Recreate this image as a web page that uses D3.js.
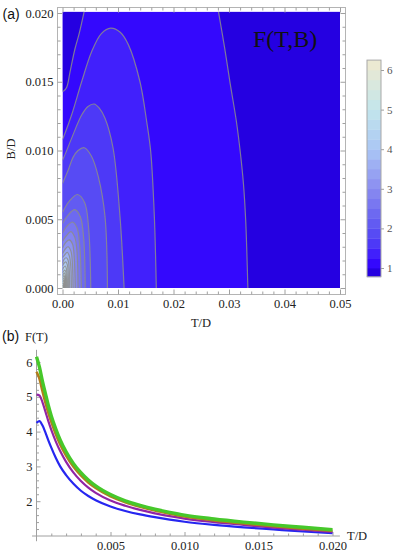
<!DOCTYPE html>
<html>
<head>
<meta charset="utf-8">
<script src="https://cdn.jsdelivr.net/npm/d3@7"></script>
<style>
  body { margin: 0; background: #fff; }
  svg { display: block; }
</style>
</head>
<body>
<svg id="chart" width="398" height="552"></svg>
<script>
// ---- panel (a) data: contour lines of F(T,B) as [T, B] ----
const contourLevels = [1.0, 1.25, 1.5, 1.75, 2.0, 2.25, 2.5, 2.75, 3.0, 3.25, 3.5, 3.75,
                       4.0, 4.25, 4.5, 4.75, 5.0, 5.25, 5.5, 5.75, 6.0];
const valueRange = [0.78, 6.25];

// level 1.0 has two branches (upper-left corner and right side)
const lowLeft = [[0.0039, 0.0201], [0.0030, 0.0185], [0.00225, 0.0174], [0.00135, 0.0157],
                 [0.00076, 0.0146], [0.0002, 0.01432], [0, 0.0143]];
const lowRight = [[0.0281, 0.0201], [0.0292, 0.0175], [0.0302, 0.0149], [0.0313, 0.0122],
                  [0.0320, 0.0100], [0.0326, 0.0076], [0.0330, 0.0050], [0.0332, 0.0028], [0.0334, 0]];

// levels 1.25 ... 6.0, each an arch from the T axis to the B axis
const arches = [
  [[0.0169, 0], [0.01655, 0.0052], [0.0159, 0.0099], [0.01517, 0.0121], [0.01396, 0.0150],
   [0.01186, 0.0177], [0.0104, 0.0186], [0.00868, 0.0189], [0.0070, 0.0185], [0.00526, 0.0172],
   [0.00345, 0.0150], [0.00165, 0.0126], [0.0004, 0.0112], [0, 0.0108]],
  [[0.0111, 0], [0.01036, 0.0052], [0.0091, 0.0102], [0.00766, 0.01234], [0.0066, 0.0131],
   [0.00568, 0.01338], [0.0046, 0.0132], [0.00345, 0.01258], [0.00165, 0.0109], [0.00045, 0.0097], [0, 0.0093]],
  [[0.0081, 0], [0.00766, 0.0052], [0.00645, 0.0081], [0.0052, 0.0096], [0.00393, 0.0102],
   [0.0028, 0.0100], [0.0019, 0.0095], [0.00105, 0.0086], [0, 0.0076]],
  [[0.0051, 0], [0.0047, 0.0044], [0.0040, 0.0062], [0.0027, 0.0068], [0.0012, 0.0063], [0, 0.0055]],
  [[0.0041, 0], [0.0038, 0.0037], [0.0032, 0.0052], [0.0022, 0.0057], [0.0010, 0.0053], [0, 0.0047]],
  [[0.0034, 0], [0.0031, 0.0031], [0.0026, 0.0044], [0.0018, 0.0048], [0.0008, 0.0045], [0, 0.0040]],
  [[0.0028, 0], [0.0026, 0.0027], [0.0022, 0.0037], [0.0015, 0.0041], [0.0007, 0.0038], [0, 0.0034]],
  [[0.0023, 0], [0.0021, 0.0023], [0.0018, 0.0032], [0.0012, 0.0035], [0.00055, 0.0033], [0, 0.0029]],
  [[0.0019, 0], [0.00175, 0.0020], [0.0015, 0.0027], [0.0010, 0.0030], [0.00045, 0.0028], [0, 0.0025]],
  [[0.0016, 0], [0.00147, 0.0017], [0.00125, 0.0023], [0.00085, 0.0026], [0.00038, 0.0024], [0, 0.0022]],
  [[0.0013, 0], [0.0012, 0.0014], [0.00102, 0.0020], [0.0007, 0.0022], [0.0003, 0.0021], [0, 0.0018]],
  [[0.0011, 0], [0.00101, 0.0012], [0.00086, 0.0017], [0.0006, 0.0019], [0.00026, 0.0018], [0, 0.0016]],
  [[0.0009, 0], [0.00083, 0.0010], [0.0007, 0.0014], [0.0005, 0.0016], [0.00021, 0.0015], [0, 0.0013]],
  [[0.00075, 0], [0.00069, 0.0008], [0.00058, 0.0012], [0.0004, 0.0013], [0.00017, 0.0012], [0, 0.0011]],
  [[0.0006, 0], [0.00055, 0.0007], [0.00046, 0.0010], [0.00033, 0.0011], [0.00014, 0.0010], [0, 0.0009]],
  [[0.0005, 0], [0.00046, 0.0006], [0.00038, 0.00082], [0.00027, 0.0009], [0.00011, 0.00083], [0, 0.00075]],
  [[0.0004, 0], [0.00037, 0.00048], [0.0003, 0.00066], [0.00021, 0.00072], [0.00009, 0.00066], [0, 0.0006]],
  [[0.0003, 0], [0.00028, 0.00036], [0.00023, 0.0005], [0.00016, 0.00055], [0.00007, 0.0005], [0, 0.00045]],
  [[0.0002, 0], [0.00018, 0.00025], [0.00015, 0.00035], [0.0001, 0.00038], [0.00004, 0.00035], [0, 0.0003]],
  [[0.0001, 0], [0.00009, 0.00013], [0.000075, 0.00018], [0.00005, 0.0002], [0.00002, 0.00018], [0, 0.00016]]
];

const tTicksA = [0, 0.01, 0.02, 0.03, 0.04, 0.05];
const bTicksA = [0, 0.005, 0.01, 0.015, 0.02];
const barTicks = [1, 2, 3, 4, 5, 6];

// colour map (value -> colour)
const colorStops = [0.78, 1.0, 1.25, 1.5, 2.0, 3.0, 4.0, 5.0, 6.25];
const colorHex = ["#1c00c8", "#2e00fa", "#3a10ff", "#4830f8", "#5c54f2", "#8a8cf0", "#aac6f4", "#c3e6ec", "#efe9cf"];

// ---- panel (b) data: F(T) curves ----
const curveT = [0, 0.0002, 0.0004, 0.0006, 0.0008, 0.001, 0.0013, 0.0016, 0.002, 0.0025, 0.003,
                0.0035, 0.004, 0.005, 0.006, 0.007, 0.008, 0.009, 0.010, 0.012, 0.014, 0.016, 0.018, 0.020];
const blueF   = [4.25, 4.30, 4.18, 3.98, 3.75, 3.54, 3.25, 3.00, 2.75, 2.50, 2.30, 2.15, 2.03, 1.85,
                 1.72, 1.62, 1.54, 1.47, 1.41, 1.32, 1.25, 1.19, 1.13, 1.08];
const purpleF = [5.06, 5.04, 4.85, 4.58, 4.30, 4.05, 3.72, 3.44, 3.13, 2.82, 2.58, 2.39, 2.24, 2.02,
                 1.87, 1.75, 1.65, 1.57, 1.50, 1.40, 1.32, 1.24, 1.18, 1.12];
const orangeF = [5.72, 5.52, 5.17, 4.84, 4.54, 4.28, 3.93, 3.63, 3.31, 2.99, 2.74, 2.54, 2.38, 2.14,
                 1.97, 1.84, 1.73, 1.64, 1.56, 1.45, 1.36, 1.28, 1.21, 1.15];
const greenF  = [6.15, 5.85, 5.45, 5.10, 4.75, 4.45, 4.08, 3.76, 3.42, 3.08, 2.82, 2.61, 2.44, 2.19,
                 2.01, 1.88, 1.77, 1.68, 1.60, 1.49, 1.40, 1.32, 1.25, 1.18];
const tTicksB = [0.005, 0.010, 0.015, 0.020];
const fTicksB = [2, 3, 4, 5, 6];

// ---------------------------------------------------------------
const svg = d3.select("#chart");
const serif = '"Liberation Serif","Times New Roman",serif';
const sans = '"Liberation Sans",Arial,sans-serif';
const tickGray = "#a0a0a0";

const colorScale = d3.scaleLinear().domain(colorStops).range(colorHex).interpolate(d3.interpolateRgb);
const bounds = [valueRange[0], ...contourLevels, valueRange[1]];
// band k lies between bounds[k] and bounds[k+1]
const bandColor = k => colorScale((bounds[k] + bounds[k + 1]) / 2);

// ================= panel (a) =================
const xA = d3.scaleLinear().domain([0, 0.05]).range([62.5, 340]);
const yA = d3.scaleLinear().domain([0, 0.02]).range([288, 13]);
const bTop = 0.0201;

svg.append("defs").append("clipPath").attr("id", "clipA")
  .append("rect")
  .attr("x", xA(0)).attr("y", yA(bTop))
  .attr("width", xA(0.05) - xA(0)).attr("height", yA(0) - yA(bTop));

const gA = svg.append("g").attr("clip-path", "url(#clipA)");
const arc = d3.line().x(d => xA(d[0])).y(d => yA(d[1])).curve(d3.curveCatmullRom.alpha(0.5));

gA.append("rect")
  .attr("x", xA(0)).attr("y", yA(bTop))
  .attr("width", xA(0.05) - xA(0)).attr("height", yA(0) - yA(bTop))
  .attr("fill", bandColor(1));

gA.append("path")
  .attr("d", arc(lowLeft) + `L${xA(0)},${yA(bTop)}Z`)
  .attr("fill", bandColor(0));
gA.append("path")
  .attr("d", arc(lowRight) + `L${xA(0.05)},${yA(0)}L${xA(0.05)},${yA(bTop)}Z`)
  .attr("fill", bandColor(0));

gA.selectAll(".band")
  .data(arches)
  .enter()
  .append("path")
  .attr("class", "band")
  .attr("d", d => arc(d) + `L${xA(0)},${yA(0)}Z`)
  .attr("fill", (d, i) => bandColor(i + 2));

gA.selectAll(".cline")
  .data([lowLeft, lowRight, ...arches])
  .enter()
  .append("path")
  .attr("class", "cline")
  .attr("d", d => arc(d))
  .attr("fill", "none")
  .attr("stroke", "#8c8c8c")
  .attr("stroke-opacity", 0.85)
  .attr("stroke-width", 1.2);

// frame
const fr = { l: 57.5, r: 345.5, t: 7.5, b: 294.5 };
svg.append("rect")
  .attr("x", fr.l).attr("y", fr.t)
  .attr("width", fr.r - fr.l).attr("height", fr.b - fr.t)
  .attr("fill", "none").attr("stroke", "#b4b4b4").attr("stroke-width", 1);

function styleAxis(g, size) {
  g.select(".domain").remove();
  g.selectAll("line").attr("stroke", tickGray);
  g.attr("font-family", serif).attr("font-size", size);
  g.selectAll("text").attr("fill", "#222");
}

const minorTA = xA.ticks(25).filter(v => !tTicksA.some(t => Math.abs(t - v) < 1e-9));
const minorBA = yA.ticks(20).filter(v => !bTicksA.some(t => Math.abs(t - v) < 1e-9));

svg.append("g").attr("transform", `translate(0,${fr.b})`)
  .call(d3.axisBottom(xA).tickValues(tTicksA).tickFormat(d3.format(".2f")).tickSize(-5).tickPadding(5))
  .call(g => styleAxis(g, 12.5));
svg.append("g").attr("transform", `translate(0,${fr.b})`)
  .call(d3.axisBottom(xA).tickValues(minorTA).tickFormat("").tickSize(-3))
  .call(g => styleAxis(g, 12.5));
svg.append("g").attr("transform", `translate(0,${fr.t})`)
  .call(d3.axisTop(xA).tickValues(tTicksA).tickFormat("").tickSize(-5))
  .call(g => styleAxis(g, 12.5));
svg.append("g").attr("transform", `translate(0,${fr.t})`)
  .call(d3.axisTop(xA).tickValues(minorTA).tickFormat("").tickSize(-3))
  .call(g => styleAxis(g, 12.5));

svg.append("g").attr("transform", `translate(${fr.l},0)`)
  .call(d3.axisLeft(yA).tickValues(bTicksA).tickFormat(d3.format(".3f")).tickSize(-5).tickPadding(4))
  .call(g => styleAxis(g, 12.5));
svg.append("g").attr("transform", `translate(${fr.l},0)`)
  .call(d3.axisLeft(yA).tickValues(minorBA).tickFormat("").tickSize(-3))
  .call(g => styleAxis(g, 12.5));
svg.append("g").attr("transform", `translate(${fr.r},0)`)
  .call(d3.axisRight(yA).tickValues(bTicksA).tickFormat("").tickSize(-5))
  .call(g => styleAxis(g, 12.5));
svg.append("g").attr("transform", `translate(${fr.r},0)`)
  .call(d3.axisRight(yA).tickValues(minorBA).tickFormat("").tickSize(-3))
  .call(g => styleAxis(g, 12.5));

svg.append("text").attr("x", 2.5).attr("y", 19)
  .attr("font-family", sans).attr("font-size", 14).attr("fill", "#111").text("(a)");
svg.append("text").attr("transform", "translate(15,149) rotate(-90)")
  .attr("text-anchor", "middle").attr("font-family", serif).attr("font-size", 12.5)
  .attr("fill", "#222").text("B/D");
svg.append("text").attr("x", 201).attr("y", 327)
  .attr("text-anchor", "middle").attr("font-family", serif).attr("font-size", 12.5)
  .attr("fill", "#222").text("T/D");
svg.append("text").attr("x", 253).attr("y", 47)
  .attr("font-family", serif).attr("font-size", 24).attr("fill", "#111").text("F(T,B)");

// legend bar
const yC = d3.scaleLinear().domain([1, 6]).range([268, 70]);
const barX = 367, barW = 14;
svg.selectAll(".barband")
  .data(d3.pairs(bounds))
  .enter()
  .append("rect")
  .attr("class", "barband")
  .attr("x", barX).attr("width", barW)
  .attr("y", d => yC(d[1]))
  .attr("height", d => yC(d[0]) - yC(d[1]) + 0.4)
  .attr("fill", (d, i) => bandColor(i));
svg.append("rect")
  .attr("x", barX).attr("y", yC(valueRange[1]))
  .attr("width", barW).attr("height", yC(valueRange[0]) - yC(valueRange[1]))
  .attr("fill", "none").attr("stroke", "#a8a8a8").attr("stroke-width", 1);
svg.append("g").attr("transform", `translate(${barX + barW},0)`)
  .call(d3.axisRight(yC).tickValues(barTicks).tickFormat(d3.format("d")).tickSize(3).tickPadding(3))
  .call(g => {
    styleAxis(g, 11);
    g.selectAll("text").attr("fill", "#555");
  });

// ================= panel (b) =================
const xB = d3.scaleLinear().domain([0, 0.02]).range([36.5, 332.5]);
const yB = d3.scaleLinear().domain([1, 6]).range([536, 362]);

const minorTB = xB.ticks(20).filter(v => v > 0 && !tTicksB.some(t => Math.abs(t - v) < 1e-9));
const minorFB = yB.ticks(25).filter(v => v > 1.01 && !fTicksB.some(t => Math.abs(t - v) < 1e-9));

svg.append("line")
  .attr("x1", xB(-0.0003)).attr("x2", xB(0.0205))
  .attr("y1", yB(1)).attr("y2", yB(1))
  .attr("stroke", tickGray).attr("stroke-width", 1);
svg.append("line")
  .attr("x1", xB(0)).attr("x2", xB(0))
  .attr("y1", yB(0.85)).attr("y2", yB(6.35))
  .attr("stroke", tickGray).attr("stroke-width", 1);

svg.append("g").attr("transform", `translate(0,${yB(1)})`)
  .call(d3.axisBottom(xB).tickValues(tTicksB).tickFormat(d3.format(".3f")).tickSize(-4).tickPadding(5))
  .call(g => styleAxis(g, 12.5));
svg.append("g").attr("transform", `translate(0,${yB(1)})`)
  .call(d3.axisBottom(xB).tickValues(minorTB).tickFormat("").tickSize(-2.5))
  .call(g => styleAxis(g, 12.5));
svg.append("g").attr("transform", `translate(${xB(0)},0)`)
  .call(d3.axisLeft(yB).tickValues(fTicksB).tickFormat(d3.format("d")).tickSize(-4).tickPadding(4))
  .call(g => styleAxis(g, 12.5));
svg.append("g").attr("transform", `translate(${xB(0)},0)`)
  .call(d3.axisLeft(yB).tickValues(minorFB).tickFormat("").tickSize(-2.5))
  .call(g => styleAxis(g, 12.5));

const curveLine = d3.line()
  .x((d, i) => xB(curveT[i]))
  .y(d => yB(d))
  .curve(d3.curveMonotoneX);

const series = [
  { values: blueF, color: "#2626f0", width: 2.2 },
  { values: purpleF, color: "#9124a6", width: 2.2 },
  { values: orangeF, color: "#b27c1c", width: 2.6 },
  { values: greenF, color: "#46c82a", width: 3.4 }
];
svg.selectAll(".fcurve")
  .data(series)
  .enter()
  .append("path")
  .attr("class", "fcurve")
  .attr("d", d => curveLine(d.values))
  .attr("fill", "none")
  .attr("stroke", d => d.color)
  .attr("stroke-width", d => d.width)
  .attr("stroke-linejoin", "round");

svg.append("text").attr("x", 2).attr("y", 341)
  .attr("font-family", sans).attr("font-size", 14).attr("fill", "#111").text("(b)");
svg.append("text").attr("x", 25).attr("y", 341)
  .attr("font-family", serif).attr("font-size", 12.5).attr("fill", "#222").text("F(T)");
svg.append("text").attr("x", 347).attr("y", 540)
  .attr("font-family", serif).attr("font-size", 12.5).attr("fill", "#222").text("T/D");
</script>
</body>
</html>
